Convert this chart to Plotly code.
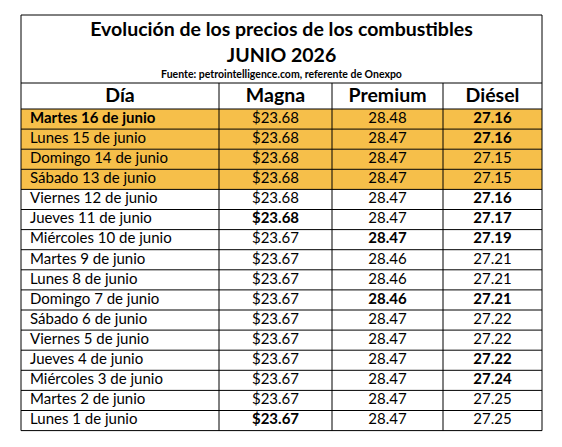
import plotly.graph_objects as go

W, H = 562, 447

title_line1 = "Evolución de los precios de los combustibles"
title_line2 = "JUNIO 2026"
source_text = "Fuente: petrointelligence.com, referente de Onexpo"

columns = ["Día", "Magna", "Premium", "Diésel"]

days = [
    "Martes 16 de junio", "Lunes 15 de junio", "Domingo 14 de junio", "Sábado 13 de junio",
    "Viernes 12 de junio", "Jueves 11 de junio", "Miércoles 10 de junio", "Martes 9 de junio",
    "Lunes 8 de junio", "Domingo 7 de junio", "Sábado 6 de junio", "Viernes 5 de junio",
    "Jueves 4 de junio", "Miércoles 3 de junio", "Martes 2 de junio", "Lunes 1 de junio",
]
magna = [23.68, 23.68, 23.68, 23.68, 23.68, 23.68, 23.67, 23.67,
         23.67, 23.67, 23.67, 23.67, 23.67, 23.67, 23.67, 23.67]
premium = [28.48, 28.47, 28.47, 28.47, 28.47, 28.47, 28.47, 28.46,
           28.46, 28.46, 28.47, 28.47, 28.47, 28.47, 28.47, 28.47]
diesel = [27.16, 27.16, 27.15, 27.15, 27.16, 27.17, 27.19, 27.21,
          27.21, 27.21, 27.22, 27.22, 27.22, 27.24, 27.25, 27.25]

# emphasis (bold) flags per column
bold_day = [1, 0, 0, 0, 0, 0, 0, 0, 0, 0, 0, 0, 0, 0, 0, 0]
bold_magna = [0, 0, 0, 0, 0, 1, 0, 0, 0, 0, 0, 0, 0, 0, 0, 1]
bold_premium = [0, 0, 0, 0, 0, 0, 1, 0, 0, 1, 0, 0, 0, 0, 0, 0]
bold_diesel = [1, 1, 0, 0, 1, 1, 1, 0, 0, 1, 0, 0, 1, 1, 0, 0]
highlight = [1, 1, 1, 1, 0, 0, 0, 0, 0, 0, 0, 0, 0, 0, 0, 0]

FONT = "Lato"
ORANGE = "#F6BF4A"
CELL_SIZE = 15
HEAD_SIZE = 19.5

# layout geometry (pixel-like axis units)
col_edges = [21, 219, 332, 443, 542]
y_top, y_title_bottom, y_header_bottom = 15, 83, 109
row_h = 20.1
n = len(days)
row_top = [y_header_bottom + i * row_h for i in range(n)]
row_mid = [t + row_h / 2 for t in row_top]
y_bottom = y_header_bottom + n * row_h


def fmt(vals, bold, prefix=""):
    out = []
    for v, b in zip(vals, bold):
        s = v if isinstance(v, str) else f"{prefix}{v:.2f}"
        out.append(f"<b>{s}</b>" if b else s)
    return out


fig = go.Figure()

# row highlight fills
for i, h in enumerate(highlight):
    if h:
        fig.add_shape(type="rect", xref="x", yref="y", layer="below",
                      x0=col_edges[0], x1=col_edges[-1], y0=row_top[i], y1=row_top[i] + row_h,
                      fillcolor=ORANGE, line=dict(width=0))

# borders
LINE = dict(color="black", width=1)
fig.add_shape(type="rect", xref="x", yref="y", x0=col_edges[0], x1=col_edges[-1],
              y0=y_top, y1=y_bottom, line=LINE)
for yy in [y_title_bottom, y_header_bottom] + row_top[1:]:
    fig.add_shape(type="line", xref="x", yref="y", x0=col_edges[0], x1=col_edges[-1],
                  y0=yy, y1=yy, line=LINE)
for xx in col_edges[1:-1]:
    fig.add_shape(type="line", xref="x", yref="y", x0=xx, x1=xx,
                  y0=y_title_bottom, y1=y_bottom, line=LINE)

# title texts
cx = (col_edges[0] + col_edges[-1]) / 2
fig.add_trace(go.Scatter(
    x=[cx, cx, cx], y=[31, 57.5, 75], mode="text",
    text=[f"<b>{title_line1}</b>", f"<b>{title_line2}</b>", f"<b>{source_text}</b>"],
    textposition="middle center",
    textfont=dict(family=FONT, size=[19.5, 19.5, 10.5], color="black"),
    hoverinfo="skip", showlegend=False,
))

# header texts
col_centers = [(a + b) / 2 for a, b in zip(col_edges[:-1], col_edges[1:])]
fig.add_trace(go.Scatter(
    x=col_centers, y=[(y_title_bottom + y_header_bottom) / 2 + 1] * 4, mode="text",
    text=[f"<b>{c}</b>" for c in columns], textposition="middle center",
    textfont=dict(family=FONT, size=HEAD_SIZE, color="black"),
    hoverinfo="skip", showlegend=False,
))

# body texts
fig.add_trace(go.Scatter(
    x=[col_edges[0] + 9] * n, y=row_mid, mode="text",
    text=fmt(days, bold_day), textposition="middle right",
    textfont=dict(family=FONT, size=CELL_SIZE, color="black"),
    hoverinfo="skip", showlegend=False,
))
for j, (vals, bold, prefix) in enumerate([(magna, bold_magna, "$"),
                                          (premium, bold_premium, ""),
                                          (diesel, bold_diesel, "")]):
    fig.add_trace(go.Scatter(
        x=[col_centers[j + 1]] * n, y=row_mid, mode="text",
        text=fmt(vals, bold, prefix), textposition="middle center",
        textfont=dict(family=FONT, size=CELL_SIZE, color="black"),
        hoverinfo="skip", showlegend=False,
    ))

fig.update_xaxes(range=[0, W], visible=False, fixedrange=True)
fig.update_yaxes(range=[H, 0], visible=False, fixedrange=True)
fig.update_layout(width=W, height=H, margin=dict(l=0, r=0, t=0, b=0),
                  paper_bgcolor="white", plot_bgcolor="white")

fig.write_html("out.html", config={"displayModeBar": False},
               post_script="document.body.style.margin='0';document.body.style.padding='0';")
